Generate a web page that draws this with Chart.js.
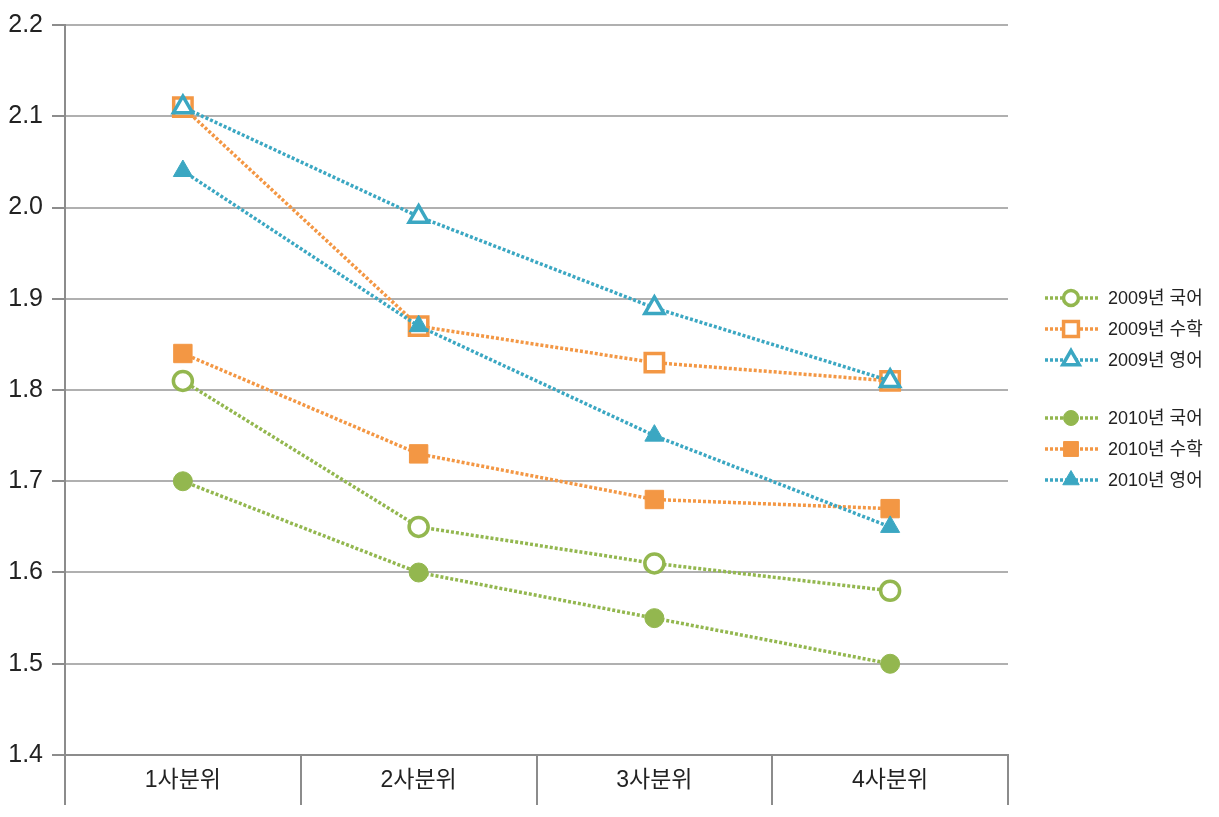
<!DOCTYPE html>
<html>
<head>
<meta charset="utf-8">
<script src="https://cdn.jsdelivr.net/npm/chart.js@4/dist/chart.umd.min.js"></script>
<style>
  html, body { margin: 0; padding: 0; background: #fff; }
  #wrap { width: 1219px; height: 817px; }
</style>
</head>
<body>
<div id="wrap"><canvas id="chart" width="1219" height="817"></canvas></div>
<script>
// 데이터
const labels = ['1사분위', '2사분위', '3사분위', '4사분위'];
const korean2009 = [1.81, 1.65, 1.61, 1.58];
const math2009 = [2.11, 1.87, 1.83, 1.81];
const english2009 = [2.11, 1.99, 1.89, 1.81];
const korean2010 = [1.70, 1.60, 1.55, 1.50];
const math2010 = [1.84, 1.73, 1.68, 1.67];
const english2010 = [2.04, 1.87, 1.75, 1.65];
const seriesNames = ['2009년 국어', '2009년 수학', '2009년 영어', '2010년 국어', '2010년 수학', '2010년 영어'];

const GREEN = '#93b74f';
const ORANGE = '#f39744';
const TEAL = '#3ba7c2';
const FONT = '"Liberation Sans", "Noto Sans CJK KR", sans-serif';

function series(i, data, color, style, open) {
    const r = style === 'rect' ? 13 : (style === 'triangle' ? 11 : 9.5);
    return {
        label: seriesNames[i],
        data,
        borderColor: color,
        backgroundColor: color,
        borderWidth: 3.5,
        borderDash: [3, 2],
        pointStyle: style,
        pointRadius: r,
        pointHoverRadius: r,
        pointBackgroundColor: open ? '#fff' : color,
        pointBorderColor: color,
        pointBorderWidth: open ? 3.5 : 1,
        fill: false,
        tension: 0,
        order: 6 - i,
        _open: open
    };
}

const datasets = [
    series(0, korean2009, GREEN, 'circle', true),
    series(1, math2009, ORANGE, 'rect', true),
    series(2, english2009, TEAL, 'triangle', true),
    series(3, korean2010, GREEN, 'circle', false),
    series(4, math2010, ORANGE, 'rect', false),
    series(5, english2010, TEAL, 'triangle', false)
];

// 오른쪽 범례 (그룹 사이 간격)
const legendRows = [298, 329, 360, 418, 449, 480];
const sideLegend = {
    id: 'sideLegend',
    afterDraw(chart) {
        const ctx = chart.ctx;
        chart.data.datasets.forEach((ds, i) => {
            const y = legendRows[i];
            ctx.save();
            ctx.strokeStyle = ds.borderColor;
            ctx.lineWidth = 3.5;
            ctx.setLineDash([3, 2]);
            ctx.beginPath();
            ctx.moveTo(1045, y);
            ctx.lineTo(1098, y);
            ctx.stroke();
            ctx.setLineDash([]);
            ctx.fillStyle = ds._open ? '#fff' : ds.borderColor;
            ctx.strokeStyle = ds.borderColor;
            ctx.lineWidth = ds._open ? 3.5 : 1;
            const r = ds.pointStyle === 'rect' ? 10.5 : (ds.pointStyle === 'triangle' ? 9.5 : 7.5);
            Chart.helpers.drawPoint(ctx, { pointStyle: ds.pointStyle, rotation: 0, radius: r, borderWidth: ctx.lineWidth }, 1071, y);
            ctx.fillStyle = '#222';
            ctx.font = '18px ' + FONT;
            ctx.textBaseline = 'middle';
            ctx.textAlign = 'left';
            ctx.fillText(ds.label, 1108, y + 1);
            ctx.restore();
        });
    }
};

new Chart(document.getElementById('chart').getContext('2d'), {
    type: 'line',
    data: { labels, datasets },
    options: {
        responsive: false,
        animation: false,
        layout: { padding: { top: 25, right: 211, left: 0, bottom: 0 } },
        plugins: { legend: { display: false }, tooltip: { enabled: false } },
        scales: {
            x: {
                offset: true,
                grid: {
                    offset: true,
                    drawOnChartArea: false,
                    drawTicks: true,
                    tickLength: 50,
                    color: '#8c8c8c',
                    lineWidth: 2
                },
                border: { color: '#8c8c8c', width: 2 },
                ticks: { color: '#222', font: { family: FONT, size: 23 }, padding: -38 },
                afterFit(scale) { scale.height = 62; }
            },
            y: {
                min: 1.4,
                max: 2.2,
                ticks: {
                    stepSize: 0.1,
                    color: '#222',
                    font: { family: FONT, size: 25 },
                    padding: 9,
                    callback: v => Number(v).toFixed(1)
                },
                grid: {
                    color: '#b0b0b0',
                    lineWidth: 2,
                    tickLength: 13,
                    tickColor: '#8c8c8c'
                },
                border: { color: '#8c8c8c', width: 2 },
                afterFit(scale) { scale.width = 65; }
            }
        }
    },
    plugins: [sideLegend]
});
</script>
</body>
</html>
